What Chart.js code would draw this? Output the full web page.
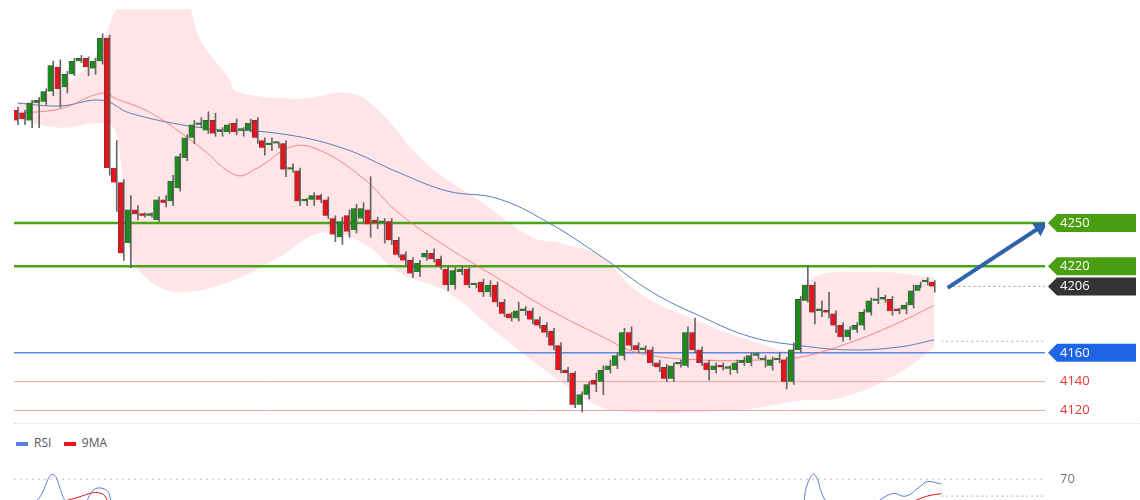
<!DOCTYPE html>
<html>
<head>
<meta charset="utf-8">
<script src="https://cdn.jsdelivr.net/npm/chart.js@4.4.1/dist/chart.umd.min.js"></script>
<style>
  html, body { margin: 0; padding: 0; background: #fff; overflow: hidden; width: 1140px; height: 500px; }
  #main { position: absolute; left: 0; top: 0; width: 1140px; height: 423px; }
  #rsiWrap { position: absolute; left: 0; top: 455px; width: 1140px; height: 145px; }
  #sep { position: absolute; left: 14px; width: 1126px; top: 423px; border-top: 1px dotted #ddd; }
  #legend { position: absolute; left: 16px; top: 434px; font: 12px "Open Sans", Arial, sans-serif; color: #555; }
  #legend span.sw { display: inline-block; width: 12px; height: 4px; margin-right: 6px; vertical-align: middle; }
</style>
</head>
<body>
<div id="main"><canvas id="priceChart"></canvas></div>
<div id="sep"></div>
<div id="legend"><span class="sw" style="background:#5b7fdc"></span>RSI&nbsp;&nbsp;&nbsp;&nbsp;<span class="sw" style="background:#e8141b"></span>9MA</div>
<div id="rsiWrap"><canvas id="rsiChart"></canvas></div>
<script>
// bougies : ouverture, clôture, haut, bas
const opens  = [4328,4326,4321,4333,4334,4341,4358,4344,4353,4362,4364,4357,4362,4378,4288,4278,4236,4259,4256,4255,
  4252,4266,4265,4274,4295,4309,4318,4314,4321,4313,4313,4319,4314,4314,4321,4307,4304,4305,4305,4287,
  4286,4265,4266,4269,4266,4253,4240,4255,4245,4253,4259,4252,4250,4251,4238,4228,4224,4216,4226,4229,
  4225,4218,4207,4216,4218,4207,4209,4202,4207,4195,4187,4184,4189,4189,4183,4179,4175,4165,4148,4146,
  4124,4131,4141,4140,4148,4151,4158,4174,4165,4162,4162,4153,4150,4142,4152,4151,4174,4162,4153,4148,
  4151,4149,4148,4153,4153,4158,4155,4151,4155,4155,4140,4162,4196,4207,4189,4189,4187,4179,4171,4176,
  4179,4188,4196,4197,4197,4190,4190,4193,4203,4209,4209];
const closes = [4321,4322,4333,4335,4341,4359,4343,4353,4362,4364,4358,4362,4378,4288,4278,4229,4259,4256,4255,4256,
  4266,4264,4279,4296,4309,4318,4319,4321,4312,4313,4318,4313,4314,4319,4309,4302,4304,4305,4287,4287,
  4265,4265,4269,4266,4255,4242,4251,4244,4260,4260,4249,4250,4251,4238,4228,4224,4215,4222,4229,4225,
  4220,4207,4217,4218,4207,4207,4202,4207,4195,4187,4184,4189,4189,4183,4179,4174,4165,4148,4146,4124,
  4131,4138,4138,4148,4151,4158,4174,4165,4162,4162,4153,4150,4142,4151,4152,4174,4162,4153,4148,4151,
  4150,4149,4153,4155,4158,4158,4155,4155,4155,4140,4162,4197,4207,4188,4189,4188,4179,4171,4176,4179,
  4188,4196,4196,4197,4189,4189,4193,4203,4207,4209,4206];
const highs  = [4330,4328,4335,4337,4343,4362,4363,4355,4364,4366,4365,4364,4381,4380,4307,4280,4269,4262,4257,4257,
  4268,4269,4283,4298,4311,4321,4323,4327,4326,4316,4319,4322,4316,4322,4323,4309,4309,4306,4307,4291,
  4288,4267,4271,4270,4268,4255,4254,4259,4263,4264,4282,4254,4253,4253,4240,4230,4226,4224,4231,4232,
  4227,4220,4219,4220,4219,4208,4211,4210,4209,4197,4188,4195,4192,4191,4185,4181,4177,4167,4150,4147,
  4133,4140,4146,4151,4155,4160,4177,4178,4167,4165,4164,4155,4152,4153,4155,4178,4184,4164,4155,4153,
  4153,4151,4155,4157,4160,4160,4158,4157,4160,4157,4167,4199,4220,4209,4196,4202,4189,4181,4178,4181,
  4190,4198,4205,4200,4199,4191,4195,4207,4209,4212,4210];
const lows   = [4318,4318,4316,4316,4332,4338,4330,4340,4352,4361,4352,4353,4360,4283,4258,4224,4219,4252,4254,4254,
  4251,4261,4262,4272,4293,4305,4316,4312,4310,4310,4312,4311,4310,4313,4305,4297,4300,4302,4282,4285,
  4262,4262,4262,4264,4253,4237,4235,4240,4243,4250,4240,4246,4236,4235,4226,4221,4212,4213,4224,4223,
  4218,4203,4204,4214,4205,4205,4199,4199,4192,4185,4182,4182,4186,4180,4177,4171,4162,4146,4140,4122,
  4119,4128,4133,4131,4146,4149,4155,4162,4160,4160,4151,4147,4140,4140,4150,4150,4160,4151,4141,4146,
  4148,4145,4146,4151,4151,4156,4150,4148,4153,4135,4138,4160,4195,4180,4185,4184,4174,4168,4169,4174,
  4176,4186,4194,4195,4186,4187,4187,4191,4205,4207,4202];

// bandes de Bollinger et moyennes mobiles : [indice, valeur]
const bandUpper = [[0,4333],[3,4336],[9,4354],[12,4374],[14,4398],[16,4410],[23,4410],[26,4376],[30,4350],[31,4341],
  [40,4336],[47,4340],[51,4329],[58,4291],[66,4264],[73,4240],[77,4236],[83,4226],[88,4202],[97,4181],
  [105,4167],[110,4164],[112,4209],[121,4216],[130,4212]];
const bandLower = [[0,4322],[6,4316],[12,4319],[14,4312],[16,4229],[19,4209],[23,4202],[30,4209],[37,4226],[43,4243],
  [49,4236],[54,4216],[61,4202],[68,4174],[77,4140],[83,4122],[88,4119],[97,4119],[105,4122],[111,4127],
  [117,4129],[125,4146],[130,4164]];
const maRed  = [[0,4326],[6,4329],[12,4340],[14,4336],[19,4326],[26,4302],[31,4283],[34,4288],[39,4303],[43,4300],
  [49,4281],[54,4257],[61,4233],[68,4212],[75,4191],[83,4171],[88,4160],[97,4155],[105,4155],[111,4157],
  [118,4167],[125,4181],[130,4193]];
const maBlue = [[0,4333],[6,4331],[12,4335],[16,4326],[26,4316],[37,4312],[46,4302],[54,4285],[61,4272],[68,4267],
  [75,4251],[83,4226],[90,4202],[97,4185],[104,4171],[111,4165],[118,4162],[125,4164],[130,4169]];

// niveaux
const resistances = [4250, 4220];
const support = 4160;
const minorLevels = [4140, 4120];
const lastPrice = 4206;
const maBlueLast = 4168;
const arrowPath = [[131.9, 4205], [145, 4247]];

// RSI (panneau du bas, seule la partie haute est visible)
const rsiPoints = [[0,55],[3,62],[5,72],[7,60],[9,58],[11,66],[13,64],[14,40],[40,50],[80,40],[110,50],[112,68],[113,72],[115,60],
  [120,58],[124,64],[126,63],[128,67],[129,69],[131,68]];
const rsiMa = [[0,55],[8,62],[12,64],[14,55],[40,48],[80,42],[110,48],[118,56],[126,60],[129,63],[131,64]];

const X_MIN = -0.5, X_MAX = 145.7;
const pts = arr => arr.map(p => ({ x: p[0], y: p[1] }));
const flat = (v, a, b) => [{ x: a, y: v }, { x: b, y: v }];

const idx = opens.map((_, i) => i);
const bodyColor = idx.map(i => closes[i] >= opens[i] ? "#1c8c1c" : "#e8141b");

const tagLabels = [
  { v: 4250, bg: "#4a9e12", fg: "#fff" },
  { v: 4220, bg: "#4a9e12", fg: "#fff" },
  { v: lastPrice, bg: "#333333", fg: "#fff" },
  { v: 4160, bg: "#1f63e6", fg: "#fff" },
  { v: 4140, bg: null, fg: "#ee3333" },
  { v: 4120, bg: null, fg: "#ee3333" },
];

const tagPlugin = {
  id: "tags",
  afterDraw(chart) {
    const c = chart.ctx, y = chart.scales.y;
    c.save();
    c.font = "13px 'Open Sans', Arial, sans-serif";
    c.textBaseline = "middle";
    tagLabels.forEach(t => {
      const py = y.getPixelForValue(t.v);
      if (t.bg) {
        c.fillStyle = t.bg;
        c.beginPath();
        c.moveTo(1048, py);
        c.lineTo(1057, py - 9);
        c.lineTo(1136, py - 9);
        c.lineTo(1136, py + 9);
        c.lineTo(1057, py + 9);
        c.closePath();
        c.fill();
      }
      c.fillStyle = t.fg;
      c.fillText(String(t.v), 1060, py);
    });
    c.restore();
  }
};

new Chart(document.getElementById("priceChart"), {
  data: {
    datasets: [
      { type: "bar", data: idx.map(i => ({ x: i, y: [opens[i], closes[i]] })), backgroundColor: bodyColor,
        borderColor: "#444", borderWidth: 0.6, barThickness: 5, minBarLength: 2, order: 0 },
      { type: "bar", data: idx.map(i => ({ x: i, y: [lows[i], highs[i]] })), backgroundColor: "#666",
        barThickness: 1, order: 1 },
      { type: "line", data: pts(arrowPath), borderColor: "#2f64ad", borderWidth: 4,
        pointRadius: [0, 9], pointStyle: "triangle", pointRotation: 57, pointBackgroundColor: "#2f64ad",
        pointBorderWidth: 0, order: 0 },
      { type: "line", data: pts(maRed), borderColor: "rgba(240,110,110,0.8)", borderWidth: 1, tension: 0.4, pointRadius: 0, order: 2 },
      { type: "line", data: pts(maBlue), borderColor: "#5c7bb5", borderWidth: 1, tension: 0.4, pointRadius: 0, order: 2 },
      ...resistances.map(v => ({ type: "line", data: flat(v, X_MIN, X_MAX), borderColor: "#4aa516", borderWidth: 2.5, pointRadius: 0, order: 3 })),
      { type: "line", data: flat(support, X_MIN, X_MAX), borderColor: "#5d87e6", borderWidth: 1.5, pointRadius: 0, order: 3 },
      ...minorLevels.map(v => ({ type: "line", data: flat(v, X_MIN, X_MAX), borderColor: "#f3a3a3", borderWidth: 1, pointRadius: 0, order: 3 })),
      { type: "line", data: flat(lastPrice, 132, X_MAX), borderColor: "#999", borderWidth: 1, borderDash: [2, 3], pointRadius: 0, order: 3 },
      { type: "line", data: flat(maBlueLast, 131, X_MAX), borderColor: "#9fb3d9", borderWidth: 1, borderDash: [2, 3], pointRadius: 0, order: 3 },
      { type: "line", data: pts(bandUpper), borderColor: "transparent", tension: 0.4, pointRadius: 0,
        fill: "+1", backgroundColor: "rgba(255,185,195,0.38)", order: 5 },
      { type: "line", data: pts(bandLower), borderColor: "transparent", tension: 0.4, pointRadius: 0, order: 5 },
    ]
  },
  options: {
    responsive: true,
    maintainAspectRatio: false,
    animation: false,
    layout: { padding: { left: 14, right: 95, top: 0, bottom: 0 } },
    scales: {
      x: { type: "linear", min: X_MIN, max: X_MAX, display: false, offset: false },
      y: { min: 4117.6, max: 4398.2, display: false }
    },
    plugins: { legend: { display: false }, tooltip: { enabled: false } }
  },
  plugins: [tagPlugin]
});

// panneau RSI
const rsiLabelPlugin = {
  id: "rsiLabel",
  afterDraw(chart) {
    const c = chart.ctx, y = chart.scales.y;
    c.save();
    c.font = "13px 'Open Sans', Arial, sans-serif";
    c.fillStyle = "#777";
    c.textBaseline = "middle";
    c.fillText("70", 1060, y.getPixelForValue(70));
    c.restore();
  }
};

new Chart(document.getElementById("rsiChart"), {
  type: "line",
  data: {
    datasets: [
      { data: pts(rsiPoints), borderColor: "#5b7fdc", borderWidth: 1, tension: 0.4, pointRadius: 0 },
      { data: pts(rsiMa), borderColor: "#e8141b", borderWidth: 1, tension: 0.4, pointRadius: 0 },
      { data: flat(70, X_MIN, X_MAX), borderColor: "#bbb", borderWidth: 1, borderDash: [2, 4], pointRadius: 0 },
      { data: flat(63, 131, X_MAX), borderColor: "#9fb3d9", borderWidth: 1, borderDash: [2, 3], pointRadius: 0 },
    ]
  },
  options: {
    responsive: true,
    maintainAspectRatio: false,
    animation: false,
    layout: { padding: { left: 14, right: 95, top: 0, bottom: 0 } },
    scales: {
      x: { type: "linear", min: X_MIN, max: X_MAX, display: false },
      y: { min: 20, max: 80, display: false }
    },
    plugins: { legend: { display: false }, tooltip: { enabled: false } }
  },
  plugins: [rsiLabelPlugin]
});
</script>
</body>
</html>
